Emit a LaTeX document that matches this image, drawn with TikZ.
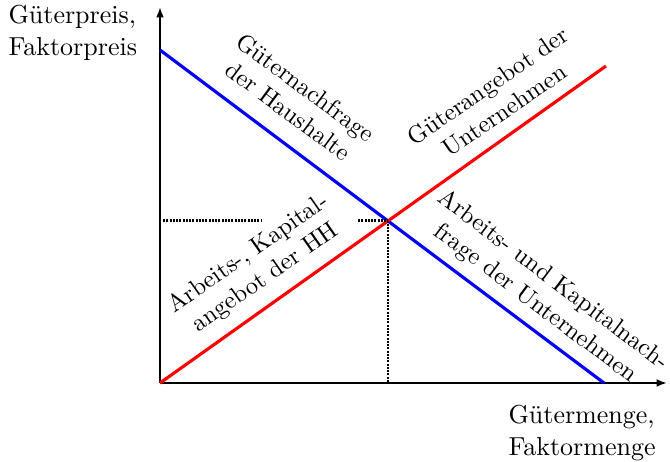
\documentclass[tikz,border=0pt]{standalone}
\usetikzlibrary{arrows.meta}
\begin{document}
\begin{tikzpicture}[x=0.3846pt,y=-0.3846pt,
  axis/.style={line width=0.75pt,-{Latex[length=4pt,width=3pt]}},
  curve/.style={line width=1.2pt},
  dots/.style={line width=0.85pt,dash pattern=on 0.85pt off 0.4pt},
  lbl/.style={align=center,inner sep=0pt,scale=0.94}]
\useasboundingbox (0,0) rectangle (670,462);
\coordinate (O) at (160,383);
\coordinate (ytop) at (160,7);
\coordinate (xend) at (667,383);
\coordinate (bTop) at (160,50);
\coordinate (bBot) at (604,383);
\coordinate (rTop) at (606,66);
\coordinate (E) at (388,220.5);
\coordinate (hA) at (163,220.5);
\coordinate (hB) at (262,220.5);
\coordinate (hC) at (358,220.5);
\coordinate (Ex) at (388,383);
\draw[axis] (O) -- (ytop);
\draw[axis] (O) -- (xend);
\draw[curve,blue] (bTop) -- (bBot);
\draw[curve,red] (O) -- (rTop);
\draw[dots] (hA) -- (hB);
\draw[dots] (hC) -- (E);
\draw[dots] (E) -- (Ex);
\node[align=left,inner sep=0pt,anchor=north west] (ylab) at (8,5) {Güterpreis,\\Faktorpreis};
\node[align=left,inner sep=0pt,anchor=north west] (xlab) at (508,405) {Gütermenge,\\Faktormenge};
\node[lbl,rotate=-36.5] (gn) at (297,99) {Güternachfrage\\der Haushalte};
\node[lbl,rotate=34.5] (ga) at (496,98) {Güterangebot der\\Unternehmen};
\node[lbl,rotate=35] (ak) at (257,266) {Arbeits-, Kapital-\\angebot der HH};
\node[lbl,rotate=-37] (an) at (544,292) {Arbeits- und Kapitalnach-\\frage der Unternehmen};
\end{tikzpicture}
\end{document}
